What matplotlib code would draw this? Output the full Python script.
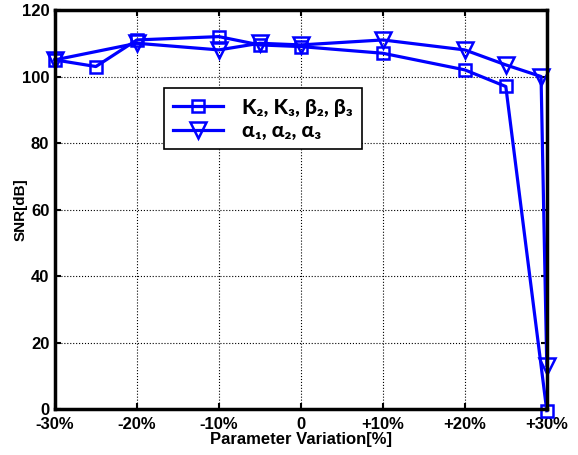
import numpy as np
import matplotlib.pyplot as plt

plt.rcParams['font.family'] = ['Liberation Sans', 'DejaVu Sans']
plt.rcParams['font.weight'] = 'bold'

x_k = [-30, -25, -20, -10, -5, 0, 10, 20, 25, 30]
snr_k = [105, 103, 111, 112, 109.5, 109, 107, 102, 97, -0.5]

x_a = [-30, -20, -10, -5, 0, 10, 20, 25, 29.3, 30]
snr_a = [105, 110, 108, 110, 109.5, 111, 108, 103.5, 100, 13]

xticks = [-30, -20, -10, 0, 10, 20, 30]
xtick_labels = ['-30%', '-20%', '-10%', '0', '+10%', '+20%', '+30%']
yticks = [0, 20, 40, 60, 80, 100, 120]

fig = plt.figure(figsize=(5.78, 4.55), dpi=100)
ax = fig.add_axes([0.095, 0.101, 0.851, 0.877])

ax.plot(x_k, snr_k, color='#0000ff', lw=2.3, marker='s', ms=8,
        mfc='none', mec='#0000ff', mew=1.8, clip_on=False,
        label='K\u2082, K\u2083, \u03b2\u2082, \u03b2\u2083')
ax.plot(x_a, snr_a, color='#0000ff', lw=2.3, marker='v', ms=11,
        mfc='none', mec='#0000ff', mew=1.8, clip_on=False,
        label='\u03b1\u2081, \u03b1\u2082, \u03b1\u2083')

ax.set_xlim(-30, 30)
ax.set_ylim(0, 120)
ax.set_xticks(xticks)
ax.set_xticklabels(xtick_labels)
ax.set_yticks(yticks)
ax.tick_params(direction='in', top=True, right=True, labelsize=12, width=1.5, length=4)
ax.tick_params(axis='x', pad=6)
ax.tick_params(axis='y', pad=4)
for lab in ax.get_xticklabels() + ax.get_yticklabels():
    lab.set_fontweight('bold')
ax.grid(True, color='black', linestyle=':', linewidth=0.8)
for s in ax.spines.values():
    s.set_linewidth(2.5)

ax.set_xlabel('Parameter Variation[%]', fontsize=12, fontweight='bold', labelpad=0)
ax.set_ylabel('SNR[dB]', fontsize=11, fontweight='bold')
ax.yaxis.set_label_coords(-0.055, 0.5)

leg = ax.legend(loc='upper left', bbox_to_anchor=(0.2, 0.83), fancybox=False,
                edgecolor='black', framealpha=1, handlelength=2.4,
                borderpad=0.45, labelspacing=0.2, handletextpad=0.9,
                prop={'family': ['Lato', 'DejaVu Sans'], 'weight': 'black', 'size': 15})
leg.get_frame().set_linewidth(1.2)

fig.savefig('out.png', dpi=100)
